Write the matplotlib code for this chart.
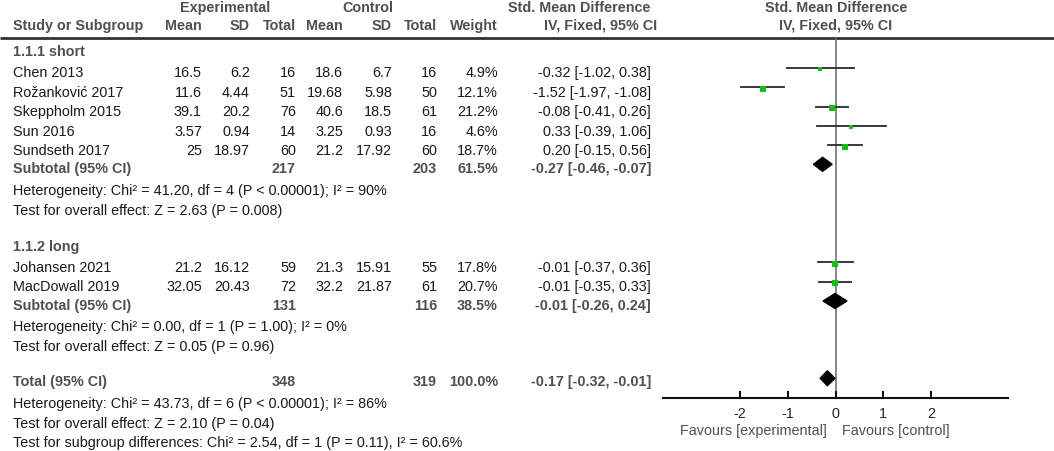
import numpy as np
import matplotlib
matplotlib.use('Agg')
import matplotlib.pyplot as plt

# ---- data ----
names_short = ['Chen 2013', 'Rožanković 2017', 'Skeppholm 2015', 'Sun 2016', 'Sundseth 2017']
names_long = ['Johansen 2021', 'MacDowall 2019']

exp_mean = [16.5, 11.6, 39.1, 3.57, 25, 21.2, 32.05]
exp_sd = [6.2, 4.44, 20.2, 0.94, 18.97, 16.12, 20.43]
exp_n = [16, 51, 76, 14, 60, 59, 72]
ctl_mean = [18.6, 19.68, 40.6, 3.25, 21.2, 21.3, 32.2]
ctl_sd = [6.7, 5.98, 18.5, 0.93, 17.92, 15.91, 21.87]
ctl_n = [16, 50, 61, 16, 60, 55, 61]
weight = [4.9, 12.1, 21.2, 4.6, 18.7, 17.8, 20.7]
smd = [-0.32, -1.52, -0.08, 0.33, 0.20, -0.01, -0.01]
ci_lo = [-1.02, -1.97, -0.41, -0.39, -0.15, -0.37, -0.35]
ci_hi = [0.38, -1.08, 0.26, 1.06, 0.56, 0.36, 0.33]

# subtotal short, subtotal long, total
pooled_label = ['Subtotal (95% CI)', 'Subtotal (95% CI)', 'Total (95% CI)']
pooled_exp_n = [217, 131, 348]
pooled_ctl_n = [203, 116, 319]
pooled_weight = [61.5, 38.5, 100.0]
pooled_smd = [-0.27, -0.01, -0.17]
pooled_lo = [-0.46, -0.26, -0.32]
pooled_hi = [-0.07, 0.24, -0.01]

notes_short = ['Heterogeneity: Chi² = 41.20, df = 4 (P < 0.00001); I² = 90%',
               'Test for overall effect: Z = 2.63 (P = 0.008)']
notes_long = ['Heterogeneity: Chi² = 0.00, df = 1 (P = 1.00); I² = 0%',
              'Test for overall effect: Z = 0.05 (P = 0.96)']
notes_total = ['Heterogeneity: Chi² = 43.73, df = 6 (P < 0.00001); I² = 86%',
               'Test for overall effect: Z = 2.10 (P = 0.04)',
               'Test for subgroup differences: Chi² = 2.54, df = 1 (P = 0.11), I² = 60.6%']

ticks = [-2, -1, 0, 1, 2]
favours = ['Favours [experimental]', 'Favours [control]']

# ---- layout (pixels) ----
W, H = 1054, 451
study_y = [73, 93, 112, 132, 151, 268, 287]
pooled_y = [169, 306, 382]
group_y = [52, 247]
notes_y = [[191, 211], [327, 347], [404, 424, 443]]
# the graphic rows sit a little higher than the text rows
line_y = [67.7, 87, 106.5, 125.7, 145, 262.3, 281.7]
diamond_y = [164.3, 301, 378.3]

col_mean_e, col_sd_e, col_n_e = 202, 250, 296
col_mean_c, col_sd_c, col_n_c = 343, 392, 437
col_w, col_ci = 498, 651

plt.rcParams['font.family'] = ['Liberation Sans', 'DejaVu Sans']
fs = 10.4
bold_c = '#505050'
txt_c = '#1a1a1a'

fig = plt.figure(figsize=(W / 100, H / 100), dpi=100)
ax = fig.add_axes([0, 0, 1, 1])
ax.set_xlim(0, W)
ax.set_ylim(H, 0)
ax.axis('off')


def t(x, y, s, ha='left', bold=False, color=None):
    ax.text(x, y, s, ha=ha, va='center', fontsize=fs,
            fontweight='bold' if bold else 'normal',
            color=color if color else (bold_c if bold else txt_c))


# header
t(225, 8, 'Experimental', ha='center', bold=True)
t(368, 8, 'Control', ha='center', bold=True)
t(579, 8, 'Std. Mean Difference', ha='center', bold=True)
t(836, 8, 'Std. Mean Difference', ha='center', bold=True)
t(13, 26, 'Study or Subgroup', bold=True)
for x, s in [(col_mean_e, 'Mean'), (col_sd_e, 'SD'), (col_n_e, 'Total'),
             (col_mean_c, 'Mean'), (col_sd_c, 'SD'), (col_n_c, 'Total'),
             (col_w, 'Weight'), (657, 'IV, Fixed, 95% CI')]:
    t(x, 26, s, ha='right', bold=True)
t(836, 26, 'IV, Fixed, 95% CI', ha='center', bold=True)
ax.plot([0, W], [38, 38], color='#333333', lw=2, solid_capstyle='butt')

t(13, group_y[0], '1.1.1 short', bold=True)
t(13, group_y[1], '1.1.2 long', bold=True)

names = names_short + names_long
for i, y in enumerate(study_y):
    t(13, y, names[i])
    t(col_mean_e, y, f'{exp_mean[i]:g}', ha='right')
    t(col_sd_e, y, f'{exp_sd[i]:g}', ha='right')
    t(col_n_e, y, str(exp_n[i]), ha='right')
    t(col_mean_c, y, f'{ctl_mean[i]:g}', ha='right')
    t(col_sd_c, y, f'{ctl_sd[i]:g}', ha='right')
    t(col_n_c, y, str(ctl_n[i]), ha='right')
    t(col_w, y, f'{weight[i]:.1f}%', ha='right')
    t(col_ci, y, f'{smd[i]:.2f} [{ci_lo[i]:.2f}, {ci_hi[i]:.2f}]', ha='right')

for i, y in enumerate(pooled_y):
    t(13, y, pooled_label[i], bold=True)
    t(col_n_e, y, str(pooled_exp_n[i]), ha='right', bold=True)
    t(col_n_c, y, str(pooled_ctl_n[i]), ha='right', bold=True)
    t(col_w, y, f'{pooled_weight[i]:.1f}%', ha='right', bold=True)
    t(col_ci, y, f'{pooled_smd[i]:.2f} [{pooled_lo[i]:.2f}, {pooled_hi[i]:.2f}]',
      ha='right', bold=True)

for lines, ys in zip([notes_short, notes_long, notes_total], notes_y):
    for s, y in zip(lines, ys):
        t(13, y, s)

# ---- forest panel ----
x0, x1 = 662, 1009
fx = fig.add_axes([x0 / W, 0, (x1 - x0) / W, 1])
fx.set_xlim(-3.62, 3.62)
fx.set_ylim(H, 0)
fx.axis('off')

axis_y = 398
fx.plot([0, 0], [38, axis_y], color='#666666', lw=1.1, zorder=1)
fx.plot([-3.62, 3.62], [axis_y, axis_y], color='#111111', lw=1.5,
        solid_capstyle='butt')
for tk in ticks:
    fx.plot([tk, tk], [axis_y, axis_y - 6], color='#111111', lw=1.5)
    fx.text(tk, 413.5, f'{tk}', ha='center', va='center', fontsize=fs,
            color='#222222')
fx.text(-0.17, 431.5, favours[0], ha='right', va='center', fontsize=fs,
        color='#505050')
fx.text(0.13, 431.5, favours[1], ha='left', va='center', fontsize=fs,
        color='#505050')

for i, y in enumerate(line_y):
    fx.plot([ci_lo[i], ci_hi[i]], [y, y], color='#2a2a2a', lw=1.3, zorder=2)
    side = 1.5 * np.sqrt(weight[i]) * 0.72
    fx.plot(smd[i], y + 1.5, marker='s', ms=side, color='#0cc40c',
            mec='#0cc40c', mew=0, zorder=3)

half_h = [7, 7.5, 7.5]
for i, y in enumerate(diamond_y):
    fx.fill([pooled_lo[i], pooled_smd[i], pooled_hi[i], pooled_smd[i]],
            [y, y - half_h[i], y, y + half_h[i]], color='black', zorder=3)

fig.savefig('out.png', dpi=100)
